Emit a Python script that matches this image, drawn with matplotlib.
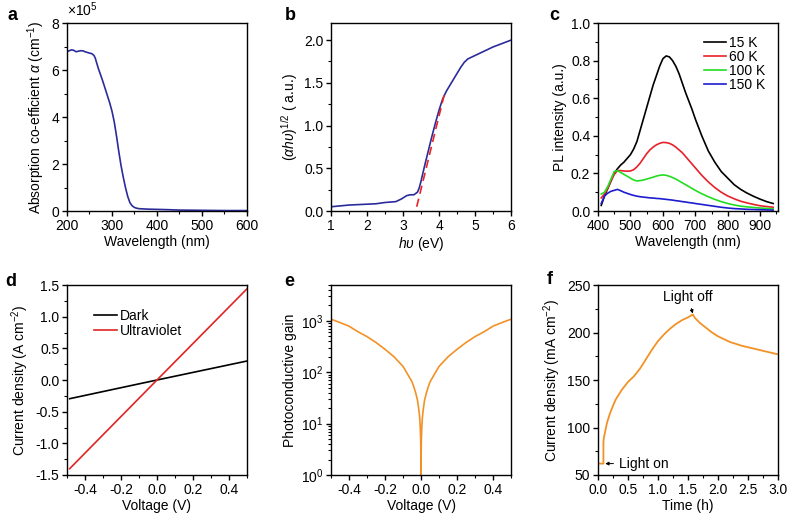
import matplotlib
matplotlib.use("Agg")
import matplotlib.pyplot as plt
from matplotlib.ticker import AutoMinorLocator, MultipleLocator, LogLocator, NullFormatter

plt.rcParams["font.family"] = ["Liberation Sans", "DejaVu Sans"]
plt.rcParams["mathtext.fontset"] = "custom"
plt.rcParams["mathtext.rm"] = "Liberation Sans"
plt.rcParams["mathtext.it"] = "Liberation Sans:italic"
plt.rcParams["font.size"] = 10

FS = 10

# ── data ────────────────────────────────────────────────────────────────
# a: absorption coefficient (x1e5 cm^-1)
wl_a = [200, 205, 210, 215, 220, 225, 230, 235, 240, 245, 250, 255, 260, 263, 266,
        270, 275, 280, 285, 290, 295, 300, 305, 310, 315, 320, 325, 330, 335, 340,
        345, 350, 355, 360, 370, 380, 400, 420, 450, 500, 550, 600]
abs_a = [6.78, 6.82, 6.86, 6.84, 6.78, 6.80, 6.82, 6.82, 6.78, 6.75, 6.72, 6.70, 6.62, 6.50, 6.30,
         6.05, 5.78, 5.50, 5.20, 4.90, 4.60, 4.25, 3.80, 3.20, 2.55, 1.95, 1.45, 1.00, 0.62, 0.35,
         0.22, 0.15, 0.12, 0.10, 0.09, 0.08, 0.07, 0.06, 0.04, 0.03, 0.02, 0.02]

# b: Tauc plot
hv_b = [1.0, 1.25, 1.5, 1.75, 2.0, 2.25, 2.5, 2.65, 2.8, 2.95, 3.1, 3.2, 3.3, 3.4, 3.45,
        3.5, 3.6, 3.7, 3.8, 3.9, 4.0, 4.1, 4.2, 4.3, 4.4, 4.5, 4.6, 4.7, 4.8, 4.9,
        5.0, 5.25, 5.5, 5.75, 6.0]
tauc_b = [0.05, 0.06, 0.07, 0.075, 0.08, 0.085, 0.10, 0.105, 0.11, 0.14, 0.18, 0.19, 0.19, 0.22, 0.27,
          0.35, 0.53, 0.70, 0.87, 1.03, 1.18, 1.31, 1.40, 1.47, 1.54, 1.61, 1.68, 1.74, 1.78, 1.80,
          1.82, 1.87, 1.92, 1.96, 2.00]
hv_fit = [3.38, 4.15]
tauc_fit = [0.05, 1.37]

# c: PL spectra
wl_c = [410, 420, 430, 440, 450, 460, 470, 480, 490, 500, 510, 520, 530, 540, 550,
        560, 570, 580, 590, 600, 610, 620, 630, 640, 650, 660, 670, 680, 690, 700,
        720, 740, 760, 780, 800, 820, 840, 860, 880, 900, 920, 940]
pl_15 = [0.03, 0.08, 0.12, 0.16, 0.20, 0.225, 0.245, 0.26, 0.28, 0.30, 0.33, 0.37, 0.43, 0.49, 0.55,
         0.61, 0.67, 0.72, 0.77, 0.81, 0.825, 0.82, 0.80, 0.77, 0.73, 0.68, 0.63, 0.585, 0.54, 0.49,
         0.40, 0.32, 0.26, 0.21, 0.175, 0.14, 0.115, 0.095, 0.078, 0.063, 0.05, 0.04]
pl_60 = [0.07, 0.09, 0.12, 0.16, 0.195, 0.215, 0.215, 0.213, 0.212, 0.213, 0.22, 0.235, 0.255, 0.28, 0.305,
         0.325, 0.34, 0.352, 0.36, 0.365, 0.364, 0.36, 0.352, 0.34, 0.325, 0.31, 0.29, 0.27, 0.25, 0.23,
         0.19, 0.155, 0.125, 0.10, 0.08, 0.065, 0.052, 0.043, 0.035, 0.028, 0.024, 0.02]
pl_100 = [0.09, 0.10, 0.13, 0.17, 0.21, 0.215, 0.205, 0.195, 0.185, 0.175, 0.165, 0.16, 0.162, 0.165, 0.17,
          0.175, 0.18, 0.186, 0.19, 0.192, 0.19, 0.185, 0.178, 0.17, 0.16, 0.15, 0.14, 0.13, 0.12, 0.11,
          0.092, 0.076, 0.062, 0.05, 0.04, 0.032, 0.026, 0.022, 0.019, 0.016, 0.014, 0.012]
pl_150 = [0.04, 0.08, 0.095, 0.105, 0.11, 0.115, 0.108, 0.10, 0.094, 0.088, 0.083, 0.079, 0.076, 0.074, 0.072,
          0.07, 0.069, 0.067, 0.066, 0.064, 0.062, 0.06, 0.058, 0.055, 0.053, 0.05, 0.048, 0.045, 0.043, 0.04,
          0.035, 0.03, 0.025, 0.02, 0.016, 0.013, 0.011, 0.009, 0.008, 0.007, 0.006, 0.005]
pl_labels = ["15 K", "60 K", "100 K", "150 K"]

# d: I-V
v_d = [-0.485, 0.0, 0.5]
j_dark = [-0.295, 0.0, 0.30]
j_uv = [-1.40, 0.0, 1.44]

# e: photoconductive gain
v_e = [-0.5, -0.45, -0.4, -0.35, -0.3, -0.25, -0.2, -0.15, -0.1, -0.077, -0.05, -0.04,
       -0.03, -0.02, -0.015, -0.01, -0.007, -0.004, -0.002, -0.001, 0.0,
       0.001, 0.002, 0.004, 0.007, 0.01, 0.015, 0.02, 0.03, 0.04, 0.05, 0.077, 0.1,
       0.15, 0.2, 0.25, 0.3, 0.35, 0.4, 0.45, 0.5]
gain_e = [1080, 930, 790, 615, 495, 380, 280, 200, 130, 95, 65, 52,
          40, 29, 22, 16, 12.6, 8, 5, 3, 1,
          3, 5, 8, 12.6, 16, 22, 29, 40, 52, 65, 95, 130,
          200, 280, 380, 495, 615, 790, 930, 1080]

# f: photocurrent vs time
t_f = [0.0, 0.09, 0.09, 0.1, 0.15, 0.2, 0.25, 0.3, 0.35, 0.4, 0.5, 0.6, 0.7, 0.8, 0.9,
       1.0, 1.1, 1.2, 1.3, 1.4, 1.5, 1.58, 1.62, 1.7, 1.8, 1.9, 2.0, 2.2, 2.4, 2.6, 2.8, 3.0]
j_f = [62, 62, 85, 90, 105, 115, 123, 130, 135, 140, 148, 154, 162, 172, 182,
       191, 198, 204, 209, 213, 216, 219, 215, 210, 205, 200, 196, 190, 186, 183, 180, 177]

NAVY = "#2b2b9c"
ORANGE = "#f29226"

# ── figure ──────────────────────────────────────────────────────────────
fig = plt.figure(figsize=(7.88, 5.19), dpi=100)

cols = [0.085, 0.4201, 0.7589]
w = 0.2284
top_b, top_h = 0.5934, 0.3622
bot_b, bot_h = 0.0848, 0.366

axes = {}
for i, name in enumerate("abc"):
    axes[name] = fig.add_axes([cols[i], top_b, w, top_h])
for i, name in enumerate("def"):
    axes[name] = fig.add_axes([cols[i], bot_b, w, bot_h])


def style(ax):
    for s in ax.spines.values():
        s.set_linewidth(1.0)
    ax.tick_params(which="both", direction="out", top=False, right=False, labelsize=FS,
                   pad=2)
    ax.tick_params(which="major", length=3.5, width=1.0)
    ax.tick_params(which="minor", length=2, width=0.8)


# a
ax = axes["a"]
style(ax)
ax.plot(wl_a, abs_a, color=NAVY, lw=1.2)
ax.set_xlim(200, 600)
ax.set_ylim(0, 8)
ax.xaxis.set_major_locator(MultipleLocator(100))
ax.xaxis.set_minor_locator(AutoMinorLocator(2))
ax.yaxis.set_major_locator(MultipleLocator(2))
ax.yaxis.set_minor_locator(AutoMinorLocator(2))
ax.set_xlabel("Wavelength (nm)", labelpad=2)
ax.set_ylabel(r"Absorption co-efficient $\alpha$ (cm$^{-1}$)", labelpad=3)
ax.text(0.0, 1.04, r"×10$^5$", transform=ax.transAxes, fontsize=FS)

# b
ax = axes["b"]
style(ax)
ax.plot(hv_b, tauc_b, color=NAVY, lw=1.2)
ax.plot(hv_fit, tauc_fit, color="#e8262a", lw=1.2, ls=(0, (5, 3)))
ax.set_xlim(1, 6)
ax.set_ylim(0, 2.2)
ax.xaxis.set_major_locator(MultipleLocator(1))
ax.xaxis.set_minor_locator(AutoMinorLocator(2))
ax.yaxis.set_major_locator(MultipleLocator(0.5))
ax.yaxis.set_minor_locator(AutoMinorLocator(2))
ax.yaxis.set_major_formatter(plt.FormatStrFormatter("%.1f"))
ax.set_xlabel(r"$h\upsilon$ (eV)", labelpad=2)
ax.set_ylabel(r"$(\alpha h\upsilon)^{1/2}$ ( a.u.)", labelpad=3)

# c
ax = axes["c"]
style(ax)
for y, c, lab in zip([pl_15, pl_60, pl_100, pl_150],
                     ["black", "#e8202a", "#22dd22", "#1c1cd0"], pl_labels):
    ax.plot(wl_c, y, color=c, lw=1.2, label=lab)
ax.set_xlim(400, 955)
ax.set_ylim(0, 1.0)
ax.xaxis.set_major_locator(MultipleLocator(100))
ax.xaxis.set_minor_locator(AutoMinorLocator(2))
ax.yaxis.set_major_locator(MultipleLocator(0.2))
ax.yaxis.set_minor_locator(AutoMinorLocator(2))
ax.yaxis.set_major_formatter(plt.FormatStrFormatter("%.1f"))
ax.set_xlabel("Wavelength (nm)", labelpad=2)
ax.set_ylabel("PL intensity (a.u.)", labelpad=3)
ax.legend(loc="upper right", frameon=False, fontsize=FS, handlelength=1.6,
          handletextpad=0.2, labelspacing=0.0, borderaxespad=0.5)

# d
ax = axes["d"]
style(ax)
ax.plot(v_d, j_dark, color="black", lw=1.2, label="Dark")
ax.plot(v_d, j_uv, color="#e02424", lw=1.2, label="Ultraviolet")
ax.set_xlim(-0.5, 0.5)
ax.set_ylim(-1.5, 1.5)
ax.xaxis.set_major_locator(MultipleLocator(0.2))
ax.xaxis.set_minor_locator(MultipleLocator(0.1))
ax.yaxis.set_major_locator(MultipleLocator(0.5))
ax.yaxis.set_minor_locator(AutoMinorLocator(2))
ax.xaxis.set_major_formatter(plt.FormatStrFormatter("%.1f"))
ax.yaxis.set_major_formatter(plt.FormatStrFormatter("%.1f"))
ax.set_xticks([-0.4, -0.2, 0.0, 0.2, 0.4])
ax.set_xlabel("Voltage (V)", labelpad=2)
ax.set_ylabel(r"Current density (A cm$^{-2}$)", labelpad=3)
ax.legend(loc="upper left", frameon=False, fontsize=FS, handlelength=1.7,
          handletextpad=0.2, labelspacing=0.1, bbox_to_anchor=(0.08, 0.94))

# e
ax = axes["e"]
style(ax)
ax.plot(v_e, gain_e, color=ORANGE, lw=1.2)
ax.set_yscale("log")
ax.set_xlim(-0.5, 0.5)
ax.set_ylim(1, 5000)
ax.xaxis.set_minor_locator(MultipleLocator(0.1))
ax.set_xticks([-0.4, -0.2, 0.0, 0.2, 0.4])
ax.xaxis.set_major_formatter(plt.FormatStrFormatter("%.1f"))
ax.yaxis.set_major_locator(LogLocator(base=10, numticks=10))
ax.yaxis.set_minor_locator(LogLocator(base=10, subs=range(2, 10), numticks=10))
ax.yaxis.set_minor_formatter(NullFormatter())
ax.set_xlabel("Voltage (V)", labelpad=2)
ax.set_ylabel("Photoconductive gain", labelpad=3)

# f
ax = axes["f"]
style(ax)
ax.plot(t_f, j_f, color=ORANGE, lw=1.3)
ax.set_xlim(0, 3)
ax.set_ylim(50, 250)
ax.xaxis.set_major_locator(MultipleLocator(0.5))
ax.xaxis.set_minor_locator(AutoMinorLocator(2))
ax.yaxis.set_major_locator(MultipleLocator(50))
ax.yaxis.set_minor_locator(AutoMinorLocator(2))
ax.xaxis.set_major_formatter(plt.FormatStrFormatter("%.1f"))
ax.set_xlabel("Time (h)", labelpad=2)
ax.set_ylabel(r"Current density (mA cm$^{-2}$)", labelpad=3)
ax.annotate("Light off", xy=(1.58, 220), xytext=(1.5, 237), ha="center", va="center",
            fontsize=FS,
            arrowprops=dict(arrowstyle="-|>", color="black", lw=0.7, mutation_scale=5,
                            shrinkA=1, shrinkB=0))
ax.annotate("Light on", xy=(0.12, 62), xytext=(0.35, 62), ha="left", va="center",
            fontsize=FS,
            arrowprops=dict(arrowstyle="-|>", color="black", lw=0.7, mutation_scale=5,
                            shrinkA=2, shrinkB=0))

# panel letters
letters = {"a": (8, 16), "b": (285, 16), "c": (549, 16),
           "d": (5, 281), "e": (284, 281), "f": (547, 280)}
for k, (x, y) in letters.items():
    fig.text(x / 788, 1 - y / 519, k, fontsize=13, fontweight="bold",
             ha="left", va="center")

fig.savefig("out.png", dpi=100)
